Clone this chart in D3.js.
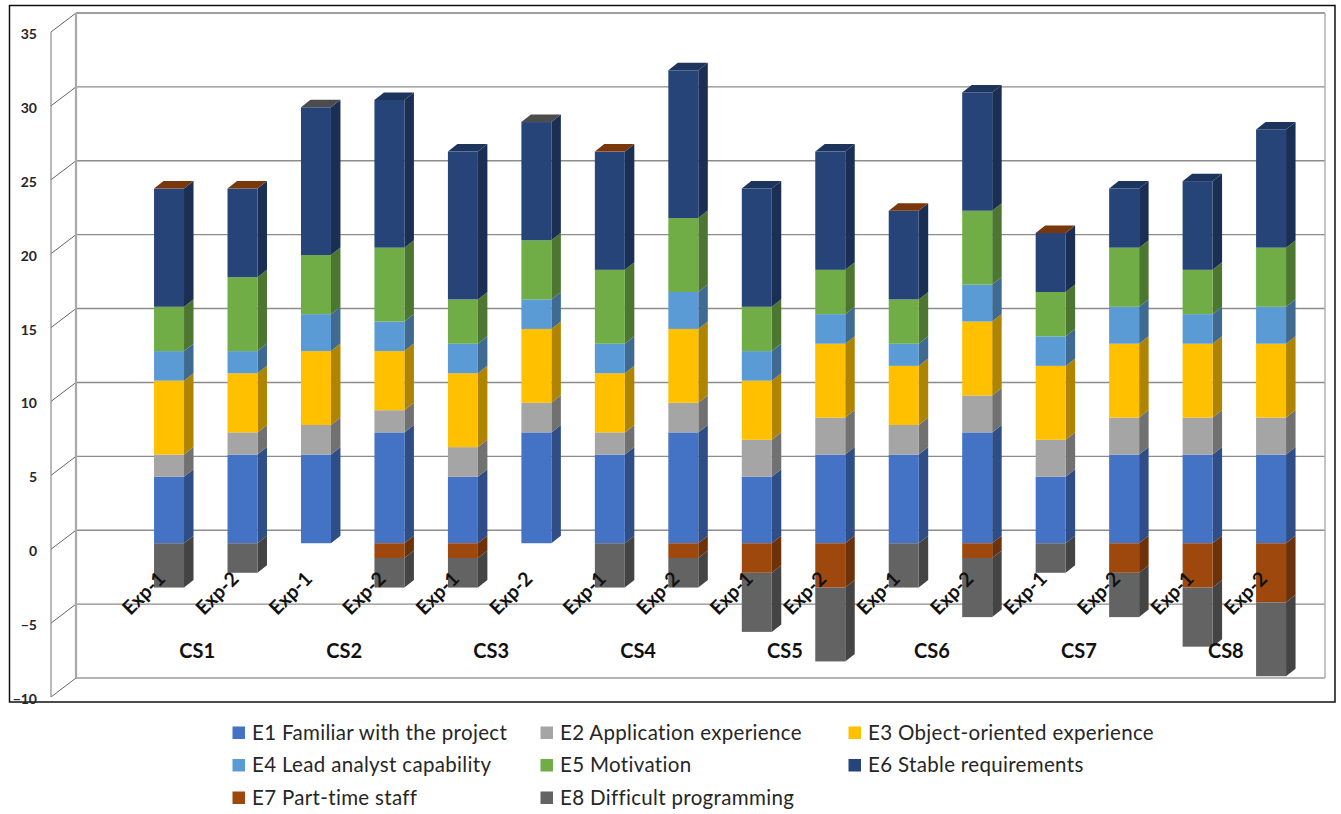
<!DOCTYPE html>
<html>
<head>
<meta charset="utf-8">
<script src="https://cdn.jsdelivr.net/npm/d3@7/dist/d3.min.js"></script>
<style>
html,body{margin:0;padding:0;background:#fff;}
svg{display:block;}
text{font-family:Lato,"Open Sans",sans-serif;}
</style>
</head>
<body>
<svg id="chart" width="1341" height="814"></svg>
<script>
// Case studies and the two experiments run for each
const caseStudies = ["CS1","CS2","CS3","CS4","CS5","CS6","CS7","CS8"];
const experiments = ["Exp-1","Exp-2"];

// Effort factors, in stacking order
const factorNames = [
  "E1 Familiar with the project","E2 Application experience","E3 Object-oriented experience",
  "E4 Lead analyst capability","E5 Motivation","E6 Stable requirements",
  "E7 Part-time staff","E8 Difficult programming"
];
const factorColors = ["#4472C4","#A5A5A5","#FFC000","#5B9BD5","#70AD47","#264478","#9E480E","#636363"];

// One value per bar: CS1 Exp-1, CS1 Exp-2, CS2 Exp-1, ... CS8 Exp-2
const e1 = [4.5,6,6,7.5,4.5,7.5,6,7.5,4.5,6,6,7.5,4.5,6,6,6];
const e2 = [1.5,1.5,2,1.5,2,2,1.5,2,2.5,2.5,2,2.5,2.5,2.5,2.5,2.5];
const e3 = [5,4,5,4,5,5,4,5,4,5,4,5,5,5,5,5];
const e4 = [2,1.5,2.5,2,2,2,2,2.5,2,2,1.5,2.5,2,2.5,2,2.5];
const e5 = [3,5,4,5,3,4,5,5,3,3,3,5,3,4,3,4];
const e6 = [8,6,10,10,10,8,8,10,8,8,6,8,4,4,6,8];
const e7 = [0,0,0,-1,-1,0,0,-1,-2,-3,0,-1,0,-2,-3,-4];
const e8 = [-3,-2,0,-2,-2,0,-3,-2,-4,-5,-3,-4,-2,-3,-4,-5];
const factorValues = [e1,e2,e3,e4,e5,e6,e7,e8];

const yTicks = [-10,-5,0,5,10,15,20,25,30,35];

const svg = d3.select("#chart");

// Oblique projection: the wall sits behind the axis plane, the bars between them
const wallShift = {x:25, y:-19};
const barOffset = {x:8, y:-6};
const barDepth = {x:9.5, y:-7.5};

const y = d3.scaleLinear().domain([-10,35]).range([697,32]);
const axisX = 51;
const wallRight = 1325;

const barKeys = d3.range(e1.length);
const xBar = d3.scaleBand().domain(barKeys).range([124.3,1299.8]).paddingInner(0.592).paddingOuter(0.296);
const xCase = d3.scaleBand().domain(caseStudies).range([124.3,1299.8]);

// Outer frame
svg.append("rect").attr("x",9.5).attr("y",5.5).attr("width",1325.5).attr("height",696.5)
  .attr("fill","#fff").attr("stroke","#111").attr("stroke-width",1.5);

// Back wall, side wall and gridlines
const walls = svg.append("g").attr("fill","none");
const wallX = axisX + wallShift.x;
walls.selectAll("line.grid").data(yTicks).join("line")
  .attr("class","grid")
  .attr("x1",wallX).attr("x2",wallRight)
  .attr("y1",d=>y(d)+wallShift.y).attr("y2",d=>y(d)+wallShift.y)
  .attr("stroke",d=>d===35?"#7f7f7f":d===-10?"#b4b4b4":"#8c8c8c")
  .attr("stroke-width",d=>d===-10?2:1.4);
walls.selectAll("line.side").data(yTicks).join("line")
  .attr("class","side")
  .attr("x1",axisX).attr("x2",wallX)
  .attr("y1",d=>y(d)).attr("y2",d=>y(d)+wallShift.y)
  .attr("stroke","#666").attr("stroke-width",1);
walls.append("line").attr("x1",axisX).attr("x2",axisX)
  .attr("y1",y(35)).attr("y2",y(-10)).attr("stroke","#8a8a8a").attr("stroke-width",1.2);
walls.append("line").attr("x1",wallX).attr("x2",wallX)
  .attr("y1",y(35)+wallShift.y).attr("y2",y(-10)+wallShift.y).attr("stroke","#a8a8a8").attr("stroke-width",2.2);
walls.append("line").attr("x1",wallRight).attr("x2",wallRight)
  .attr("y1",y(35)+wallShift.y).attr("y2",y(-10)+wallShift.y).attr("stroke","#b0b0b0").attr("stroke-width",1.5);

// Value axis labels
const axis = svg.append("g").attr("transform",`translate(37,2)`)
  .call(d3.axisLeft(y).tickValues(yTicks).tickSize(0).tickPadding(0).tickFormat(d3.format("d")));
axis.select(".domain").remove();
axis.selectAll("text").attr("font-size",14).attr("font-weight",700).attr("fill","#262626")
  .attr("font-family","Lato,sans-serif");

// Stacks: positives build up from zero, negatives build down from zero
const segments = barKeys.map(i=>{
  let up = 0, down = 0;
  return factorValues.map((vals,s)=>{
    const v = vals[i];
    let from, to;
    if(v>=0){from=up; up+=v; to=up;} else {from=down; down+=v; to=down;}
    return {bar:i, series:s, value:v, from, to};
  });
});

const path = pts => "M"+pts.map(p=>p.join(",")).join("L")+"Z";
const barsG = svg.append("g");
barKeys.forEach(i=>{
  const g = barsG.append("g");
  const x0 = xBar(i)+barOffset.x, w = xBar.bandwidth();
  const yAt = v => y(v)+barOffset.y;
  const segs = segments[i];
  // Top face takes the colour of the last series resting on the positive stack
  const capSeg = segs.filter(s=>s.value>=0).at(-1);
  segs.filter(s=>s.value!==0).forEach(s=>{
    const c = factorColors[s.series];
    const top = Math.max(s.from,s.to), bot = Math.min(s.from,s.to);
    g.append("path").attr("fill",d3.color(c).darker(1.05))
      .attr("d",path([[x0+w,yAt(top)],[x0+w+barDepth.x,yAt(top)+barDepth.y],
                      [x0+w+barDepth.x,yAt(bot)+barDepth.y],[x0+w,yAt(bot)]]));
    g.append("rect").attr("x",x0).attr("y",yAt(top)).attr("width",w)
      .attr("height",yAt(bot)-yAt(top)).attr("fill",c);
  });
  if(capSeg){
    g.append("path").attr("fill",d3.color(factorColors[capSeg.series]).darker(0.75))
      .attr("d",path([[x0,yAt(capSeg.to)],[x0+w,yAt(capSeg.to)],
                      [x0+w+barDepth.x,yAt(capSeg.to)+barDepth.y],[x0+barDepth.x,yAt(capSeg.to)+barDepth.y]]));
  }
});

// Rotated experiment labels and the case study row beneath them
const labels = svg.append("g");
barKeys.forEach(i=>{
  const cx = xBar(i)+xBar.bandwidth()/2;
  labels.append("text")
    .attr("transform",`translate(${cx+5.5},580) rotate(-45)`)
    .attr("text-anchor","end").attr("font-size",19.5).attr("font-weight",700).attr("fill","#111")
    .text(experiments[i%2]);
});
labels.selectAll("text.cs").data(caseStudies).join("text")
  .attr("class","cs")
  .attr("x",d=>xCase(d)+xCase.bandwidth()/2-0.5)
  .attr("y",658).attr("text-anchor","middle")
  .attr("font-size",20).attr("font-weight",700).attr("fill","#111")
  .text(d=>d);

// Legend: three columns, filled row by row
const legendCol = d3.scaleOrdinal().domain([0,1,2]).range([232.5,540.5,848.5]);
const legendRow = d3.scaleOrdinal().domain([0,1,2]).range([733,765.5,798]);
const legend = svg.append("g").selectAll("g").data(factorNames).join("g")
  .attr("transform",(d,i)=>`translate(${legendCol(i%3)},${legendRow(Math.floor(i/3))})`);
legend.append("rect").attr("x",0).attr("y",-6.5).attr("width",12.5).attr("height",12.5)
  .attr("fill",(d,i)=>factorColors[i]);
legend.append("text").attr("x",19.5).attr("y",6.5)
  .attr("font-size",20.5).attr("letter-spacing",0.33).attr("fill","#262626").text(d=>d);
</script>
</body>
</html>
